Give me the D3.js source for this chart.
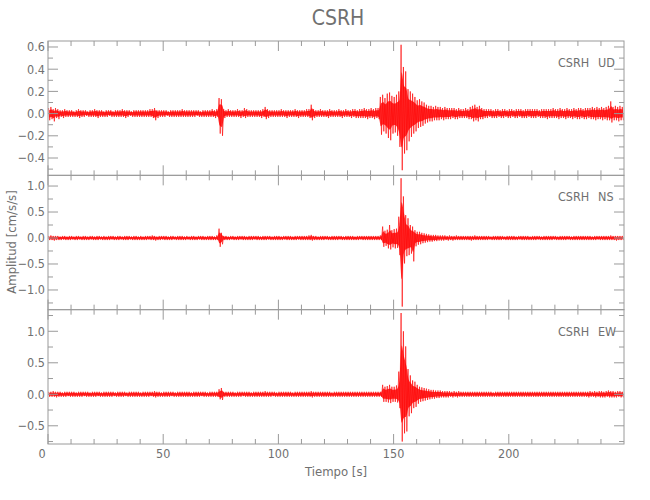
<!DOCTYPE html>
<html><head><meta charset="utf-8">
<script src="https://cdn.jsdelivr.net/npm/d3@7"></script>
<style>
body{margin:0;background:#fff;}
text{font-family:"DejaVu Sans Condensed","Liberation Sans Narrow","Liberation Sans",sans-serif;fill:#707070;font-weight:200;}
</style></head>
<body><svg id="c" width="650" height="500"></svg>
<script>
// ---- data: per-second envelope (max / min) of each component ----
const station = "CSRH";
const components = ["UD", "NS", "EW"];
const xLabel = "Tiempo [s]";
const yLabel = "Amplitud [cm/s/s]";
const xMajorTicks = [0, 50, 100, 150, 200];

const udMax = [.05,.06,.04,.05,.04,.03,.03,.04,.03,.03, .03,.02,.03,.04,.03,.03,.03,.02,.03,.03,
 .04,.03,.03,.03,.02,.03,.03,.03,.02,.03, .03,.03,.04,.03,.03,.03,.02,.03,.03,.03,
 .03,.03,.03,.03,.04,.04,.05,.03,.03,.03, .03,.03,.02,.03,.03,.03,.03,.03,.04,.03,
 .03,.03,.03,.03,.03,.03,.02,.03,.03,.03, .03,.04,.03,.04,.14,.13,.04,.03,.04,.03,
 .03,.03,.04,.03,.03,.05,.04,.03,.03,.03, .03,.03,.03,.04,.06,.04,.03,.03,.03,.03,
 .03,.04,.03,.03,.03,.03,.03,.04,.03,.03, .03,.03,.04,.04,.08,.04,.03,.03,.04,.03,
 .03,.03,.04,.03,.03,.03,.04,.03,.03,.04, .03,.03,.04,.04,.03,.04,.04,.05,.04,.04,
 .05,.04,.05,.05,.15,.17,.14,.18,.19,.16, .15,.17,.20,.62,.42,.38,.22,.20,.18,.15,
 .12,.13,.11,.10,.08,.07,.07,.06,.07,.06, .06,.05,.06,.05,.05,.05,.05,.04,.05,.04,
 .04,.05,.04,.06,.07,.08,.06,.07,.05,.04, .04,.04,.04,.03,.04,.04,.03,.04,.04,.03,
 .04,.04,.03,.04,.04,.04,.03,.04,.04,.04, .04,.04,.04,.03,.04,.04,.04,.04,.04,.05,
 .04,.04,.05,.04,.04,.05,.04,.04,.05,.04, .05,.05,.04,.05,.05,.05,.06,.05,.06,.05,
 .06,.05,.06,.07,.11,.06,.07,.06,.07,.06];
const udMin = [-.06,-.05,-.07,-.04,-.05,-.03,-.04,-.03,-.03,-.03, -.03,-.03,-.03,-.04,-.03,-.03,-.02,-.03,-.03,-.03,
 -.03,-.04,-.03,-.03,-.03,-.03,-.02,-.03,-.03,-.03, -.03,-.03,-.03,-.04,-.03,-.02,-.03,-.03,-.03,-.03,
 -.03,-.03,-.03,-.03,-.03,-.04,-.06,-.04,-.03,-.03, -.03,-.02,-.03,-.03,-.03,-.03,-.03,-.03,-.03,-.03,
 -.03,-.03,-.03,-.03,-.02,-.03,-.03,-.03,-.03,-.03, -.03,-.03,-.04,-.03,-.18,-.20,-.04,-.03,-.03,-.03,
 -.03,-.03,-.03,-.04,-.03,-.04,-.03,-.03,-.03,-.03, -.03,-.03,-.04,-.03,-.05,-.04,-.03,-.03,-.03,-.03,
 -.03,-.03,-.03,-.04,-.03,-.03,-.03,-.03,-.04,-.03, -.03,-.03,-.03,-.04,-.06,-.04,-.03,-.03,-.03,-.03,
 -.03,-.04,-.03,-.03,-.03,-.03,-.03,-.04,-.03,-.03, -.03,-.04,-.03,-.04,-.04,-.04,-.04,-.04,-.05,-.04,
 -.04,-.05,-.04,-.05,-.19,-.16,-.18,-.22,-.24,-.18, -.17,-.20,-.30,-.51,-.36,-.33,-.25,-.21,-.18,-.16,
 -.13,-.12,-.11,-.09,-.08,-.07,-.07,-.06,-.06,-.06, -.05,-.06,-.05,-.05,-.05,-.04,-.05,-.05,-.04,-.04,
 -.04,-.04,-.05,-.05,-.07,-.06,-.07,-.05,-.05,-.04, -.04,-.03,-.04,-.04,-.04,-.03,-.04,-.04,-.03,-.04,
 -.04,-.03,-.04,-.04,-.03,-.04,-.04,-.04,-.03,-.04, -.04,-.04,-.03,-.04,-.04,-.04,-.05,-.04,-.04,-.04,
 -.04,-.05,-.04,-.04,-.05,-.04,-.04,-.05,-.04,-.05, -.05,-.04,-.05,-.05,-.04,-.05,-.05,-.06,-.05,-.05,
 -.06,-.05,-.06,-.06,-.08,-.06,-.06,-.07,-.06,-.06];

const nsMax = [.04,.05,.04,.04,.04,.03,.04,.04,.03,.04, .04,.03,.04,.04,.03,.04,.04,.03,.04,.04,
 .03,.04,.04,.03,.04,.03,.04,.04,.04,.03, .04,.04,.03,.04,.04,.04,.03,.04,.04,.03,
 .04,.03,.04,.04,.04,.05,.04,.03,.04,.04, .04,.04,.03,.04,.04,.03,.04,.04,.04,.03,
 .04,.03,.04,.04,.03,.04,.04,.04,.03,.04, .04,.04,.03,.05,.18,.10,.04,.04,.03,.04,
 .04,.03,.04,.04,.04,.04,.03,.04,.04,.04, .04,.04,.03,.04,.04,.04,.04,.03,.04,.04,
 .04,.03,.04,.04,.04,.04,.03,.04,.04,.04, .04,.04,.04,.05,.06,.04,.04,.03,.04,.04,
 .04,.04,.03,.04,.04,.04,.04,.04,.03,.04, .04,.04,.04,.03,.04,.04,.04,.04,.04,.04,
 .04,.04,.04,.04,.05,.22,.14,.16,.25,.15, .17,.18,.41,1.15,.80,.44,.38,.25,.22,.15,
 .12,.12,.10,.09,.08,.07,.06,.06,.06,.05, .05,.05,.05,.04,.05,.04,.04,.05,.04,.04,
 .04,.04,.04,.04,.04,.05,.04,.04,.04,.04, .04,.04,.03,.04,.04,.04,.04,.04,.03,.04,
 .04,.04,.04,.03,.04,.04,.04,.04,.04,.03, .04,.04,.04,.04,.03,.04,.04,.04,.04,.04,
 .04,.03,.04,.04,.04,.04,.04,.03,.04,.04, .04,.04,.04,.04,.04,.04,.03,.04,.04,.04,
 .04,.04,.04,.04,.05,.04,.04,.04,.04,.04];
const nsMin = [-.04,-.04,-.05,-.04,-.04,-.04,-.03,-.04,-.04,-.04, -.03,-.04,-.04,-.03,-.04,-.04,-.04,-.04,-.03,-.04,
 -.04,-.04,-.03,-.04,-.04,-.04,-.04,-.03,-.04,-.04, -.04,-.03,-.04,-.04,-.04,-.03,-.04,-.04,-.04,-.04,
 -.04,-.04,-.04,-.03,-.04,-.04,-.05,-.04,-.04,-.03, -.04,-.04,-.04,-.04,-.03,-.04,-.04,-.04,-.04,-.04,
 -.03,-.04,-.04,-.04,-.04,-.03,-.04,-.04,-.04,-.04, -.04,-.04,-.04,-.04,-.17,-.12,-.04,-.04,-.04,-.03,
 -.04,-.04,-.04,-.03,-.04,-.04,-.04,-.04,-.04,-.03, -.04,-.04,-.04,-.04,-.04,-.03,-.04,-.04,-.04,-.04,
 -.04,-.04,-.03,-.04,-.04,-.04,-.04,-.04,-.03,-.04, -.04,-.04,-.04,-.04,-.05,-.04,-.04,-.04,-.04,-.04,
 -.03,-.04,-.04,-.04,-.04,-.04,-.03,-.04,-.04,-.04, -.04,-.04,-.04,-.04,-.04,-.03,-.04,-.04,-.04,-.04,
 -.04,-.04,-.04,-.04,-.04,-.17,-.15,-.20,-.22,-.18, -.20,-.19,-.33,-1.32,-.49,-.35,-.33,-.30,-.45,-.16,
 -.13,-.12,-.10,-.09,-.08,-.07,-.07,-.06,-.06,-.05, -.05,-.05,-.04,-.05,-.04,-.05,-.04,-.04,-.04,-.04,
 -.04,-.04,-.04,-.05,-.04,-.04,-.04,-.04,-.04,-.04, -.04,-.03,-.04,-.04,-.04,-.04,-.04,-.03,-.04,-.04,
 -.04,-.04,-.04,-.04,-.03,-.04,-.04,-.04,-.04,-.04, -.04,-.04,-.03,-.04,-.04,-.04,-.04,-.04,-.04,-.03,
 -.04,-.04,-.04,-.04,-.04,-.03,-.04,-.04,-.04,-.04, -.04,-.04,-.04,-.04,-.04,-.04,-.04,-.04,-.03,-.04,
 -.04,-.04,-.04,-.04,-.04,-.04,-.05,-.04,-.04,-.04];

const ewMax = [.04,.04,.05,.04,.04,.04,.03,.04,.04,.04, .04,.04,.03,.04,.04,.04,.04,.04,.03,.04,
 .04,.04,.04,.03,.04,.04,.04,.04,.04,.03, .04,.04,.04,.04,.03,.04,.04,.04,.04,.04,
 .03,.04,.04,.04,.04,.04,.05,.04,.04,.03, .04,.04,.04,.04,.04,.03,.04,.04,.04,.04,
 .04,.04,.03,.04,.04,.04,.04,.04,.04,.03, .04,.04,.04,.04,.08,.10,.04,.04,.04,.04,
 .04,.03,.04,.04,.04,.04,.04,.04,.03,.04, .04,.04,.04,.04,.05,.04,.04,.04,.04,.03,
 .04,.04,.04,.04,.04,.04,.03,.04,.04,.04, .04,.04,.04,.04,.05,.04,.04,.04,.04,.04,
 .04,.04,.04,.03,.04,.04,.04,.04,.04,.04, .04,.04,.04,.04,.04,.04,.04,.04,.04,.04,
 .04,.04,.04,.04,.04,.15,.12,.13,.15,.12, .12,.14,.36,1.29,1.00,.76,.40,.30,.22,.20,
 .15,.12,.11,.10,.09,.08,.07,.07,.06,.06, .06,.05,.05,.05,.05,.04,.05,.04,.05,.04,
 .04,.04,.04,.04,.04,.04,.04,.04,.04,.04, .04,.04,.04,.03,.04,.04,.04,.04,.04,.04,
 .04,.04,.04,.04,.04,.04,.04,.04,.04,.04, .04,.04,.04,.04,.04,.04,.04,.04,.04,.04,
 .04,.04,.04,.04,.04,.04,.04,.04,.04,.04, .04,.04,.04,.04,.04,.05,.04,.05,.04,.05,
 .05,.04,.05,.06,.05,.05,.04,.05,.05,.04];
const ewMin = [-.04,-.04,-.04,-.05,-.04,-.04,-.04,-.04,-.03,-.04, -.04,-.04,-.04,-.04,-.04,-.03,-.04,-.04,-.04,-.04,
 -.04,-.03,-.04,-.04,-.04,-.04,-.04,-.04,-.03,-.04, -.04,-.04,-.04,-.03,-.04,-.04,-.04,-.04,-.04,-.04,
 -.04,-.04,-.04,-.04,-.03,-.04,-.05,-.04,-.04,-.04, -.04,-.04,-.04,-.03,-.04,-.04,-.04,-.04,-.04,-.04,
 -.04,-.04,-.04,-.04,-.04,-.04,-.03,-.04,-.04,-.04, -.04,-.04,-.04,-.04,-.08,-.09,-.04,-.04,-.04,-.04,
 -.04,-.04,-.04,-.04,-.03,-.04,-.04,-.04,-.04,-.04, -.04,-.04,-.04,-.04,-.04,-.04,-.04,-.03,-.04,-.04,
 -.04,-.04,-.04,-.04,-.04,-.04,-.04,-.04,-.04,-.04, -.04,-.04,-.04,-.04,-.05,-.04,-.04,-.04,-.04,-.04,
 -.04,-.04,-.04,-.04,-.04,-.04,-.04,-.04,-.04,-.04, -.04,-.04,-.04,-.04,-.04,-.04,-.04,-.04,-.04,-.04,
 -.04,-.04,-.04,-.04,-.04,-.12,-.12,-.13,-.14,-.12, -.12,-.13,-.22,-.75,-.62,-.59,-.35,-.30,-.22,-.20,
 -.15,-.12,-.11,-.10,-.09,-.08,-.07,-.07,-.06,-.06, -.05,-.05,-.05,-.05,-.04,-.05,-.04,-.05,-.04,-.04,
 -.04,-.04,-.04,-.04,-.04,-.04,-.04,-.04,-.04,-.04, -.04,-.04,-.04,-.04,-.04,-.04,-.04,-.04,-.04,-.04,
 -.04,-.04,-.04,-.04,-.04,-.04,-.04,-.04,-.04,-.04, -.04,-.04,-.04,-.04,-.04,-.04,-.04,-.04,-.04,-.04,
 -.04,-.04,-.04,-.04,-.04,-.04,-.04,-.04,-.04,-.04, -.04,-.04,-.04,-.04,-.05,-.04,-.04,-.05,-.04,-.05,
 -.05,-.05,-.04,-.05,-.05,-.05,-.05,-.04,-.05,-.05];

const yDomains = [[-0.556, 0.654], [-1.379, 1.206], [-0.789, 1.343]];
const yMajor = [[-0.4,-0.2,0,0.2,0.4,0.6],[-1,-0.5,0,0.5,1],[-0.5,0,0.5,1]];
const yMinorStep = [0.1, 0.25, 0.25];
const maxes = [udMax, nsMax, ewMax];
const mins = [udMin, nsMin, ewMin];

// ---- layout ----
const svg = d3.select("#c");
const L = 48, R = 624, T = 41, B = 444;
const ph = (B - T) / 3;
const axisCol = "#9a9a9a";
const x = d3.scaleLinear().domain([0, 250]).range([L, R]);
const xMinor = d3.range(0, 250, 10);

svg.append("text").attr("x", 338).attr("y", 25).attr("text-anchor", "middle")
  .style("font-size", "21px").text(station);

components.forEach((comp, k) => {
  const top = T + k * ph, bot = top + ph;
  const y = d3.scaleLinear().domain(yDomains[k]).range([bot, top]);
  const g = svg.append("g");
  const cid = "clip" + k;
  svg.append("clipPath").attr("id", cid).append("rect")
    .attr("x", L).attr("y", top).attr("width", R - L).attr("height", ph);

  const env = maxes[k].map((v, i) => ({ t: i + 0.5, hi: v, lo: mins[k][i] }));
  // filled core of the min/max envelope
  g.append("path").attr("clip-path", `url(#${cid})`)
    .attr("d", d3.area().x(d => x(d.t)).y0(d => y(d.lo * 0.6)).y1(d => y(d.hi * 0.6))
      .curve(d3.curveMonotoneX)(env))
    .attr("fill", "#ff0000").attr("fill-opacity", 0.8);
  // waveform zig-zag between extremes
  const pts = [];
  env.forEach(d => { pts.push([d.t - 0.25, d.hi]); pts.push([d.t + 0.25, d.lo]); });
  g.append("path").attr("clip-path", `url(#${cid})`)
    .attr("d", d3.line().x(d => x(d[0])).y(d => y(d[1]))(pts))
    .attr("fill", "none").attr("stroke", "#ff0000").attr("stroke-width", 0.8)
    .attr("stroke-opacity", 0.8);

  // frame
  g.append("rect").attr("x", L).attr("y", top).attr("width", R - L).attr("height", ph)
    .attr("fill", "none").attr("stroke", axisCol).attr("stroke-width", 1);

  // x ticks top & bottom
  const ax = g.append("g").attr("stroke", axisCol).attr("stroke-width", 1);
  xMinor.forEach(t => {
    const len = xMajorTicks.includes(t) ? 10 : 5;
    ax.append("line").attr("x1", x(t)).attr("x2", x(t)).attr("y1", bot).attr("y2", bot - len);
    ax.append("line").attr("x1", x(t)).attr("x2", x(t)).attr("y1", top).attr("y2", top + len);
  });
  // y ticks left & right
  const [d0, d1] = yDomains[k];
  const st = yMinorStep[k];
  const minorVals = d3.range(Math.ceil(d0 / st) * st, d1 + 1e-9, st).map(v => Math.round(v * 100) / 100);
  minorVals.forEach(v => {
    const isMaj = yMajor[k].some(m => Math.abs(m - v) < 1e-6);
    const len = isMaj ? 10 : 5;
    ax.append("line").attr("x1", L).attr("x2", L + len).attr("y1", y(v)).attr("y2", y(v));
    ax.append("line").attr("x1", R).attr("x2", R - len).attr("y1", y(v)).attr("y2", y(v));
  });
  const fmt = d3.format(".1f");
  yMajor[k].forEach(v => {
    g.append("text").attr("x", L - 3).attr("y", y(v)).attr("dy", "0.35em")
      .attr("text-anchor", "end").style("font-size", "12.5px").text(fmt(v));
  });

  // station / component label
  g.append("text").attr("x", 558).attr("y", top + 26).style("font-size", "12.5px").text(station);
  g.append("text").attr("x", 598).attr("y", top + 26).style("font-size", "12.5px").text(comp);

  if (k === 2) {
    xMajorTicks.forEach(t => {
      g.append("text").attr("x", t === 0 ? x(t) - 6 : x(t)).attr("y", bot + 14).attr("text-anchor", "middle")
        .style("font-size", "12.5px").text(t);
    });
  }
});

svg.append("text").attr("x", 336).attr("y", 476).attr("text-anchor", "middle")
  .style("font-size", "13px").text(xLabel);
svg.append("text").attr("transform", "translate(16,242) rotate(-90)").attr("text-anchor", "middle")
  .style("font-size", "13px").text(yLabel);
</script></body></html>
